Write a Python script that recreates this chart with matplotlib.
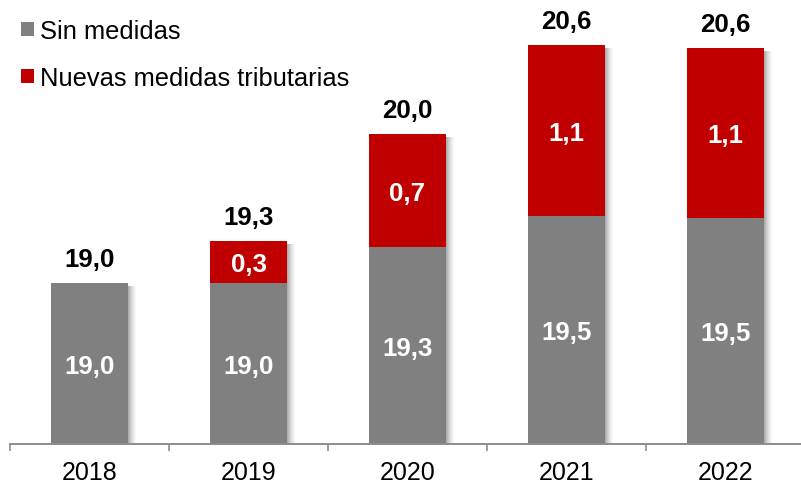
import matplotlib
matplotlib.use("Agg")

import matplotlib.pyplot as plt
import numpy as np

plt.rcParams['font.family'] = ['Liberation Sans', 'DejaVu Sans']

years = ["2018", "2019", "2020", "2021", "2022"]
# bar heights (the printed labels are rounded)
sin_medidas = [19.0, 19.0, 19.24, 19.45, 19.44]
nuevas = [0.0, 0.28, 0.76, 1.15, 1.14]
sin_labels = ["19,0", "19,0", "19,3", "19,5", "19,5"]
nuevas_labels = ["", "0,3", "0,7", "1,1", "1,1"]
total_labels = ["19,0", "19,3", "20,0", "20,6", "20,6"]

GRAY = "#808080"
RED = "#C00000"
YMIN, YMAX = 17.918, 20.91

fig = plt.figure(figsize=(8.01, 4.85), dpi=100)
ax = fig.add_axes([10 / 801, 40 / 485, 795 / 801, 445 / 485])
ax.set_xlim(-0.5, 4.5)
ax.set_ylim(YMIN, YMAX)

x = np.arange(len(years))
w = 0.478
sin = np.array(sin_medidas)
nue = np.array(nuevas)
tot = sin + nue

# soft drop shadow on the right side of each bar
px = 1.0 / 159
py = (YMAX - YMIN) / 445
for i in range(9):
    a = 0.32 * (1 - i / 9) ** 1.6
    ax.bar(x + w / 2 + (i + 0.5) * px, tot - 3 * py - YMIN, bottom=YMIN,
           width=px, color="black", alpha=a, linewidth=0, zorder=1)

b1 = ax.bar(x, sin - YMIN, bottom=YMIN, width=w, color=GRAY, zorder=2,
            label="Sin medidas")
b2 = ax.bar(x, nue, bottom=sin, width=w, color=RED, zorder=2,
            label="Nuevas medidas tributarias")

FS_B = 18.6
for i in range(len(years)):
    ax.annotate(sin_labels[i], (x[i], (YMIN + sin[i]) / 2), xytext=(0, -6.6),
                textcoords="offset points", ha="center", va="baseline",
                color="white", fontsize=FS_B, fontweight="bold", zorder=3)
    if nuevas_labels[i]:
        ax.annotate(nuevas_labels[i], (x[i], sin[i] + nue[i] / 2), xytext=(0, -6.6),
                    textcoords="offset points", ha="center", va="baseline",
                    color="white", fontsize=FS_B, fontweight="bold", zorder=3)
    ax.annotate(total_labels[i], (x[i], tot[i]), xytext=(0, 12.5),
                textcoords="offset points", ha="center", va="baseline",
                color="black", fontsize=FS_B, fontweight="bold", zorder=3)

for s in ["top", "right", "left"]:
    ax.spines[s].set_visible(False)
ax.spines["bottom"].set_color("#8c8c8c")
ax.spines["bottom"].set_linewidth(1.4)
ax.set_yticks([])
ax.set_xticks(x)
ax.set_xticklabels(years, fontsize=18)
ax.tick_params(axis="x", which="major", length=0, pad=11.5)
ax.set_xticks(np.arange(-0.5, 5, 1), minor=True)
ax.tick_params(axis="x", which="minor", length=5, width=1.2, color="#8c8c8c")

ax.legend(handles=[b1, b2], loc="upper left", bbox_to_anchor=(21 / 801, 1 - 20 / 485),
          bbox_transform=fig.transFigure, frameon=False, fontsize=18.4,
          handlelength=0.5, handleheight=0.5, handletextpad=0.25,
          labelspacing=0.9, borderpad=0, borderaxespad=0)

fig.savefig("out.png", dpi=100)
